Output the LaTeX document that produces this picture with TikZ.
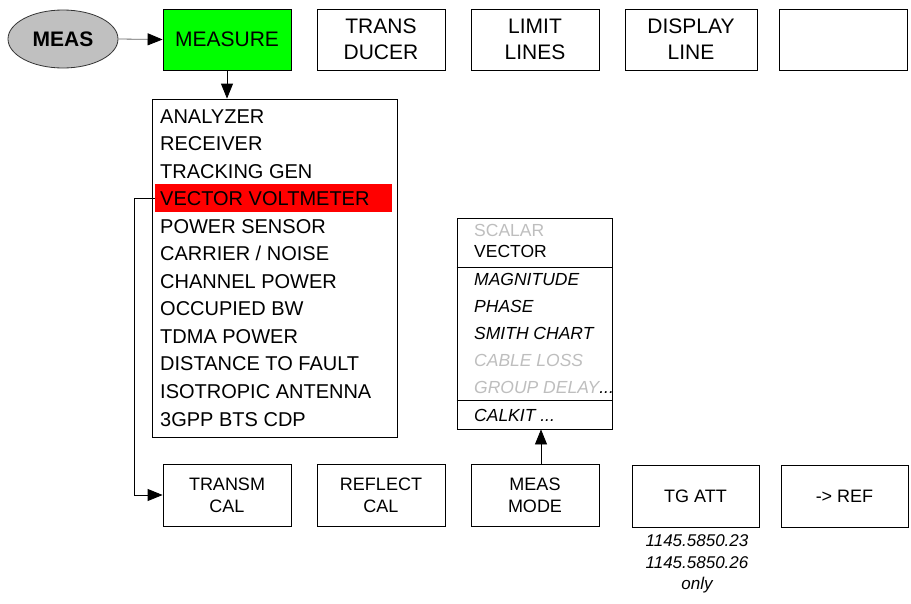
\documentclass[tikz,border=0pt]{standalone}
\usepackage{fontspec}
\setmainfont{Liberation Sans}
\usetikzlibrary{arrows.meta,shapes.geometric}
\definecolor{lgray}{RGB}{190,190,190}
\definecolor{elgray}{RGB}{192,192,192}
\definecolor{bgreen}{RGB}{0,255,0}
\begin{document}
\begin{tikzpicture}[x=1pt,y=-1pt,
  btn/.style={draw, line width=0.8pt, minimum width=128pt, minimum height=61pt, inner sep=0pt, align=center, font=\fontsize{21}{26}\selectfont},
  sbtn/.style={draw, line width=0.8pt, minimum width=128pt, minimum height=62pt, inner sep=0pt, align=center, font=\fontsize{18}{22}\selectfont},
  item/.style={anchor=base west, inner sep=0pt, font=\fontsize{20}{20}\selectfont},
  pitem/.style={anchor=base west, inner sep=0pt, font=\fontsize{17.5}{18}\selectfont},
  arr/.style={-{Triangle[length=15pt,width=12pt,color=black]}, line width=0.8pt},
  frame/.style={draw, line width=0.8pt, inner sep=0pt}
]
\useasboundingbox (0,0) rectangle (911,603);

% top row
\node[ellipse, draw=black!80, line width=0.8pt, fill=elgray, minimum width=110pt, minimum height=58pt, inner sep=0pt, font=\fontsize{21}{24}\selectfont\bfseries] (meas) at (63,39) {MEAS};
\node[btn, fill=bgreen] (measure) at (227,39.5) {MEASURE};
\node[btn] (trans) at (381,39.5) {TRANS\\DUCER};
\node[btn] (limit) at (535,39.5) {LIMIT\\LINES};
\node[btn, minimum width=132pt] (disp) at (691,39.5) {DISPLAY\\LINE};
\node[btn] (empty) at (843,39.5) {};

\draw[arr, draw=black!60] (meas.east) -- (measure.west);

% menu
\node[frame, minimum width=245pt, minimum height=338pt] (menu) at (274.5,268) {};
\draw[arr] (measure.south) -- (measure.south |- menu.north);
\node[fill=red, inner sep=0pt, minimum width=237pt, minimum height=28pt] (vv) at (273.5,198) {};
\foreach \t [count=\i from 0] in {ANALYZER, RECEIVER, TRACKING GEN, VECTOR VOLTMETER, POWER SENSOR, CARRIER / NOISE, CHANNEL POWER, OCCUPIED BW, TDMA POWER, DISTANCE TO FAULT, ISOTROPIC ANTENNA, 3GPP BTS CDP}
  \node[item] (mi\i) at (160, 123+27.55*\i) {\t};

% bottom row
\node[sbtn] (transm) at (227,495) {TRANSM\\CAL};
\node[sbtn] (reflect) at (381,495) {REFLECT\\CAL};
\node[sbtn] (measmode) at (535,495) {MEAS\\MODE};
\node[sbtn, minimum width=127pt] (tgatt) at (695.5,496) {TG ATT};
\node[sbtn, minimum width=127pt] (ref) at (844.5,496) {-> REF};

\draw[arr] (vv.west) -- ++(-20,0) |- (transm.west);

% popup
\node[frame, minimum width=155pt, minimum height=211pt] (popup) at (534.5,323.5) {};
\draw[line width=0.8pt] (popup.west |- 0,267) -- (popup.east |- 0,267);
\draw[line width=0.8pt] (popup.west |- 0,400) -- (popup.east |- 0,400);
\node[pitem, text=lgray] (p1) at (474,236.5) {SCALAR};
\node[pitem] (p2) at (474,257.5) {VECTOR};
\node[pitem] (p3) at (474,285.5) {\itshape MAGNITUDE};
\node[pitem] (p4) at (474,312.5) {\itshape PHASE};
\node[pitem] (p5) at (474,339.5) {\itshape SMITH CHART};
\node[pitem, text=lgray] (p6) at (474,366.5) {\itshape CABLE LOSS};
\node[pitem, text=lgray] (p7) at (474,393.5) {\itshape GROUP DELAY\textcolor{black}{...}};
\node[pitem] (p8) at (474,421.5) {\itshape CALKIT ...};

\draw[arr] ([xshift=6pt]measmode.north) -- ([xshift=6pt]measmode.north |- popup.south);

% note
\node[align=center, inner sep=0pt, font=\fontsize{17}{21.5}\selectfont\itshape] (note) at (697,564) {1145.5850.23\\1145.5850.26\\only};
\end{tikzpicture}
\end{document}
